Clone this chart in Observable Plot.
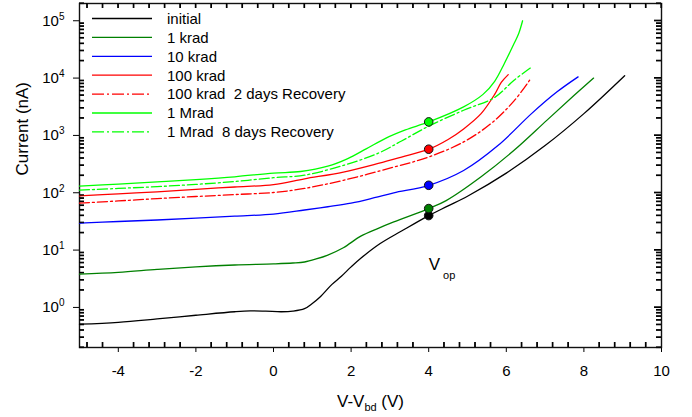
<!DOCTYPE html>
<html><head><meta charset="utf-8">
<script src="https://cdn.jsdelivr.net/npm/d3@7"></script>
<script src="https://cdn.jsdelivr.net/npm/@observablehq/plot@0.6"></script>
<style>
body{margin:0;background:#fff;}
#chart{position:relative;width:692px;height:417px;font-family:"Liberation Sans",Arial,sans-serif;}
</style></head><body><div id="chart"></div>
<script>
// ---- series ----
const seriesNames = ["initial","1 krad","10 krad","100 krad","100 krad  2 days Recovery","1 Mrad","1 Mrad  8 days Recovery"];
const seriesColors = ["#000000","#008000","#0000ff","#ff0000","#ff0000","#00ff00","#00ff00"];
const dashedSeries = ["100 krad  2 days Recovery","1 Mrad  8 days Recovery"];

const initialX = [-5,-4,-3,-2,-1,-0.6,-0.2,0.2,0.5,0.8,1.0,1.2,1.5,1.75,2.0,2.25,2.75,3.3,4.0,4.5,5.0,6.0,7.0,8.0,9.05];
const initialY = [0.51,0.55,0.63,0.73,0.84,0.87,0.86,0.84,0.86,0.95,1.17,1.52,2.5,3.5,5.1,7.2,13,21.5,40,59,87,220,665,2400,11000];

const krad1X = [-5,-4,-3,-2,-1,0,0.5,0.8,1.1,1.4,1.8,2.25,2.7,3.1,4.0,4.45,5.35,6.2,7.05,7.75,8.25];
const krad1Y = [3.8,4.1,4.6,5.1,5.5,5.75,5.95,6.2,7.0,8.2,11,17.5,24,31,53,73,190,550,1850,5000,10000];

const krad10X = [-5,-4,-3,-2,-1,0,0.8,1.4,2.0,2.6,3.1,4.0,4.9,5.8,6.65,7.3,7.85];
const krad10Y = [29.5,31.5,33.5,36,39,42.5,50,57,66,82,100,135,245,680,2400,5700,10500];

const krad100X = [-5,-4,-3,-2,-1,0,0.8,1.8,2.7,3.3,4.0,4.5,4.9,5.35,5.7,5.87,6.05];
const krad100Y = [88,96,104,115,126,139,175,230,325,420,575,850,1300,2400,5200,8400,11500];

const krad100RecX = [-5,-4,-3,-2,-1,0,0.8,1.8,3.1,4.0,4.9,5.6,6.2,6.64];
const krad100RecY = [66,72,79,86,93,101,119,165,280,420,770,1600,4000,10000];

const mrad1X = [-5,-4,-3,-2,-1,0,0.7,1.4,1.9,2.4,2.9,3.4,4.0,4.9,5.4,5.7,5.95,6.2,6.32,6.42];
const mrad1Y = [131,142,155,170,190,220,235,290,390,590,900,1250,1720,3150,5200,8800,18000,40000,60000,100000];

const mrad1RecX = [-5,-4,-3,-2,-1,0,0.8,1.8,2.7,3.3,4.0,4.9,5.7,6.2,6.64];
const mrad1RecY = [111,119,128,140,157,183,203,300,490,800,1450,2750,4600,9200,15300];

const seriesX = [initialX,krad1X,krad10X,krad100X,krad100RecX,mrad1X,mrad1RecX];
const seriesY = [initialY,krad1Y,krad10Y,krad100Y,krad100RecY,mrad1Y,mrad1RecY];

// operating point markers
const vopX = 4;
const markedSeries = ["initial","1 krad","10 krad","100 krad","1 Mrad"];
const vopLabel = [{x: 4, y: 5.7, text: "Vop"}];

// ticks
const xMajorTicks = [-4,-2,0,2,4,6,8,10];
const xMinorTicks = d3.range(-48, 101, 4).map(v => v/10);
const yMajorTicks = [1,10,100,1000,10000,100000];
const yMinorTicks = d3.range(-1,6).flatMap(e => d3.range(2,10).map(m => +(m*Math.pow(10,e)).toPrecision(3))).filter(v => v >= 0.2 && v <= 2e5);

const xTitle = "V-Vbd (V)";
const yTitle = "Current (nA)";

// ---- table ----
const data = seriesNames.flatMap((s,i) => seriesX[i].map((x,j) => ({series: s, x, y: seriesY[i][j]})));
const solidData = data.filter(d => !dashedSeries.includes(d.series));
const dashData = data.filter(d => dashedSeries.includes(d.series));
const dotData = markedSeries.flatMap(s => data.filter(d => d.series === s && d.x === vopX));

const font = "'Liberation Sans', Arial, sans-serif";
const W = 692, H = 417, mL = 79, mR = 31, mT = 3, mB = 70;
const fw = W - mL - mR, fh = H - mT - mB;
const minorLen = 5, majorLenIn = 7;
const tickStyle = {stroke: "#000", strokeWidth: 1.2};
const xMinorOnly = xMinorTicks.filter(v => !xMajorTicks.includes(v));
const plot = Plot.plot({
  width: W, height: H,
  marginLeft: mL, marginRight: mR, marginTop: mT, marginBottom: mB,
  style: {fontFamily: font, fontSize: "15px", background: "white", color: "black"},
  x: {domain: [-5, 10]},
  y: {type: "log", domain: [0.2, 2e5]},
  color: {domain: seriesNames, range: seriesColors},
  marks: [
    // inward ticks
    Plot.ruleX(xMinorOnly, {insetTop: fh - minorLen, ...tickStyle}),
    Plot.ruleX(xMinorTicks, {insetBottom: fh - minorLen, ...tickStyle}),
    Plot.ruleY(yMinorTicks, {insetRight: fw - minorLen, ...tickStyle}),
    Plot.ruleY(yMinorTicks, {insetLeft: fw - minorLen, ...tickStyle}),
    Plot.ruleY(yMajorTicks, {insetLeft: fw - majorLenIn, ...tickStyle}),
    // outward major ticks with labels
    Plot.axisX(xMajorTicks, {anchor: "bottom", tickSize: 5, tickPadding: 13, tickFormat: d => String(d), label: null}),
    Plot.axisY(yMajorTicks, {anchor: "left", tickSize: 6, tickPadding: 9, tickFormat: d => "10^" + Math.round(Math.log10(d)), label: null}),
    Plot.frame({stroke: "#111", strokeWidth: 1.4}),
    Plot.line(solidData, {x: "x", y: "y", z: "series", stroke: "series", strokeWidth: 1.3, curve: "catmull-rom"}),
    Plot.line(dashData, {x: "x", y: "y", z: "series", stroke: "series", strokeWidth: 1.3, strokeDasharray: "10,3,2,3", curve: "catmull-rom"}),
    Plot.dot(dotData, {x: "x", y: "y", fill: "series", stroke: "#111", strokeWidth: 1, r: 4.3}),
    Plot.text(vopLabel, {x: "x", y: "y", text: "text", textAnchor: "start", lineAnchor: "middle", fontSize: 17}),
    Plot.text([xTitle], {frameAnchor: "bottom", text: d => d, dy: 47, lineAnchor: "top", fontSize: 17}),
    Plot.text([yTitle], {frameAnchor: "left", text: d => d, rotate: -90, dx: -64, lineAnchor: "top", fontSize: 17})
  ]
});
document.getElementById("chart").appendChild(plot);
const svg = d3.select(plot);

// ---- inward ticks also drawn from Plot's own scales (robust fallback) ----
const sx = plot.scale("x"), sy = plot.scale("y");
const tg = svg.append("g").attr("stroke", "#000").attr("stroke-width", 1.2);
const x0 = mL, x1 = W - mR, y0 = mT, y1 = H - mB;
xMinorOnly.forEach(v => { const px = sx.apply(v); tg.append("line").attr("x1", px).attr("x2", px).attr("y1", y1).attr("y2", y1 - minorLen); });
xMinorTicks.forEach(v => { const px = sx.apply(v); tg.append("line").attr("x1", px).attr("x2", px).attr("y1", y0).attr("y2", y0 + minorLen); });
yMinorTicks.forEach(v => { const py = sy.apply(v);
  tg.append("line").attr("x1", x0).attr("x2", x0 + minorLen).attr("y1", py).attr("y2", py);
  tg.append("line").attr("x1", x1).attr("x2", x1 - minorLen).attr("y1", py).attr("y2", py); });
yMajorTicks.forEach(v => { const py = sy.apply(v); tg.append("line").attr("x1", x1).attr("x2", x1 - majorLenIn).attr("y1", py).attr("y2", py); });

// ---- rich text (super/subscripts) ----
svg.selectAll("text").each(function() {
  const t = this.textContent;
  const sel = d3.select(this);
  let m;
  if ((m = /^10\^(-?\d+)$/.exec(t))) {
    sel.text(null);
    sel.append("tspan").text("10");
    sel.append("tspan").attr("dy", -6).attr("font-size", 10).text(m[1]);
  } else if (t === "Vop") {
    sel.text(null);
    sel.append("tspan").text("V");
    sel.append("tspan").attr("dx", 3).attr("dy", 9.5).attr("font-size", 11).text("op");
  } else if (t === xTitle) {
    sel.text(null);
    sel.append("tspan").text("V-V");
    sel.append("tspan").attr("dy", 4).attr("font-size", 11).text("bd");
    sel.append("tspan").attr("dy", -4).text(" (V)");
  }
});

// ---- legend (inside plot, top-left) ----
const lg = svg.append("g").attr("font-family", font).attr("font-size", 15).attr("text-anchor", "start");
seriesNames.forEach((s, i) => {
  const y = 18.5 + i * 18.9;
  lg.append("line").attr("x1", 92).attr("x2", 152).attr("y1", y).attr("y2", y)
    .attr("stroke", seriesColors[i]).attr("stroke-width", 1.3)
    .attr("stroke-dasharray", dashedSeries.includes(s) ? "12,3,2,3" : null);
  lg.append("text").attr("x", 167).attr("y", y + 5.3).attr("text-anchor", "start")
    .style("white-space", "pre").text(s);
});
</script>
</body></html>
